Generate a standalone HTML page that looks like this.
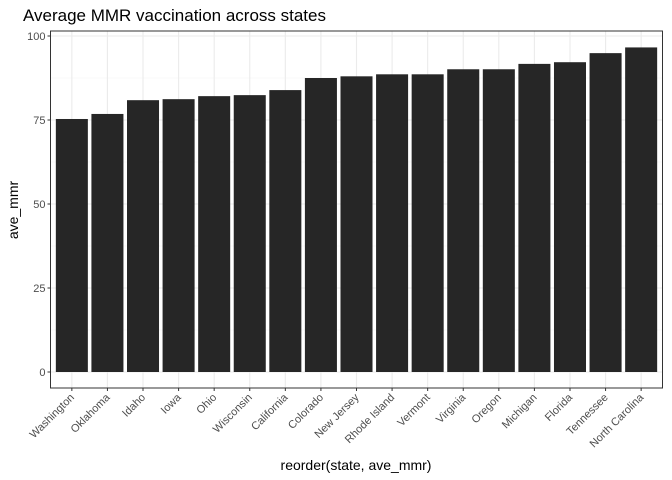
<!DOCTYPE html>
<html><head><meta charset="utf-8"><style>
body{margin:0;background:#fff;}
svg{display:block;font-family:"Liberation Sans",sans-serif;}
</style></head><body>
<svg id="chart" width="672" height="480">
<text x="23" y="21" font-size="17" fill="#000">Average MMR vaccination across states</text>
<g id="grid"></g><g id="bars"></g><g id="axes"></g>
<text x="356" y="470" font-size="14" text-anchor="middle">reorder(state, ave_mmr)</text>
<text transform="translate(18,210) rotate(-90)" font-size="14" text-anchor="middle">ave_mmr</text>
</svg>
<script>
const states=["Washington","Oklahoma","Idaho","Iowa","Ohio","Wisconsin","California","Colorado","New Jersey","Rhode Island","Vermont","Virginia","Oregon","Michigan","Florida","Tennessee","North Carolina"];
const values=[75.3,76.8,80.9,81.2,82.1,82.4,83.9,87.5,88.0,88.6,88.6,90.1,90.1,91.7,92.2,94.9,96.6];
const yTicks=[0,25,50,75,100];
const NS="http://www.w3.org/2000/svg";
const L=50.5,R=662.5,T=31,B=388;
const y0=372,yPer=3.36;
const y=v=>y0-v*yPer;
const step=(R-L)/(states.length+0.2);
const x=i=>L+step*(0.6+i);
function mk(t,a,p){const e=document.createElementNS(NS,t);for(const k in a)e.setAttribute(k,a[k]);p.appendChild(e);return e;}
const grid=document.getElementById('grid'),bars=document.getElementById('bars'),axes=document.getElementById('axes');
const bg=mk('rect',{x:L,y:T,width:R-L,height:B-T,fill:'#fff'},grid);


for(let k=0;k<yTicks.length-1;k++){const m=(yTicks[k]+yTicks[k+1])/2;
 const g=mk('line',{x1:L,x2:R,y1:y(m),y2:y(m),stroke:'#f2f2f2','stroke-width':0.6},grid);
 
 }
yTicks.forEach(v=>{const g=mk('line',{x1:L,x2:R,y1:y(v),y2:y(v),stroke:'#ebebeb','stroke-width':1.1},grid);
 
 
 const tk=mk('line',{x1:L-3,x2:L,y1:y(v),y2:y(v),stroke:'#333','stroke-width':1},axes);
 
 
 const t=mk('text',{x:L-5,y:y(v)+4,'font-size':11,'text-anchor':'end',fill:'#4d4d4d'},axes);t.textContent=v;
 
 });
states.forEach((s,i)=>{const g=mk('line',{x1:x(i),x2:x(i),y1:T,y2:B,stroke:'#ebebeb','stroke-width':1.1},grid);
 
 
 const w=step*0.9;
 const b=mk('rect',{x:x(i)-w/2,y:y(values[i]),width:w,height:y(0)-y(values[i]),fill:'#262626'},bars);
 
 
 const tk=mk('line',{x1:x(i),x2:x(i),y1:B,y2:B+3,stroke:'#333','stroke-width':1},axes);
 
 
 const t=mk('text',{x:x(i)+3,y:B+10,'font-size':11,'text-anchor':'end',fill:'#4d4d4d',transform:`rotate(-45 ${x(i)+3} ${B+10})`},axes);t.textContent=s;
 
 });
const fr=mk('rect',{x:L,y:T,width:R-L,height:B-T,fill:'none',stroke:'#333','stroke-width':1},axes);


</script>
</body></html>
